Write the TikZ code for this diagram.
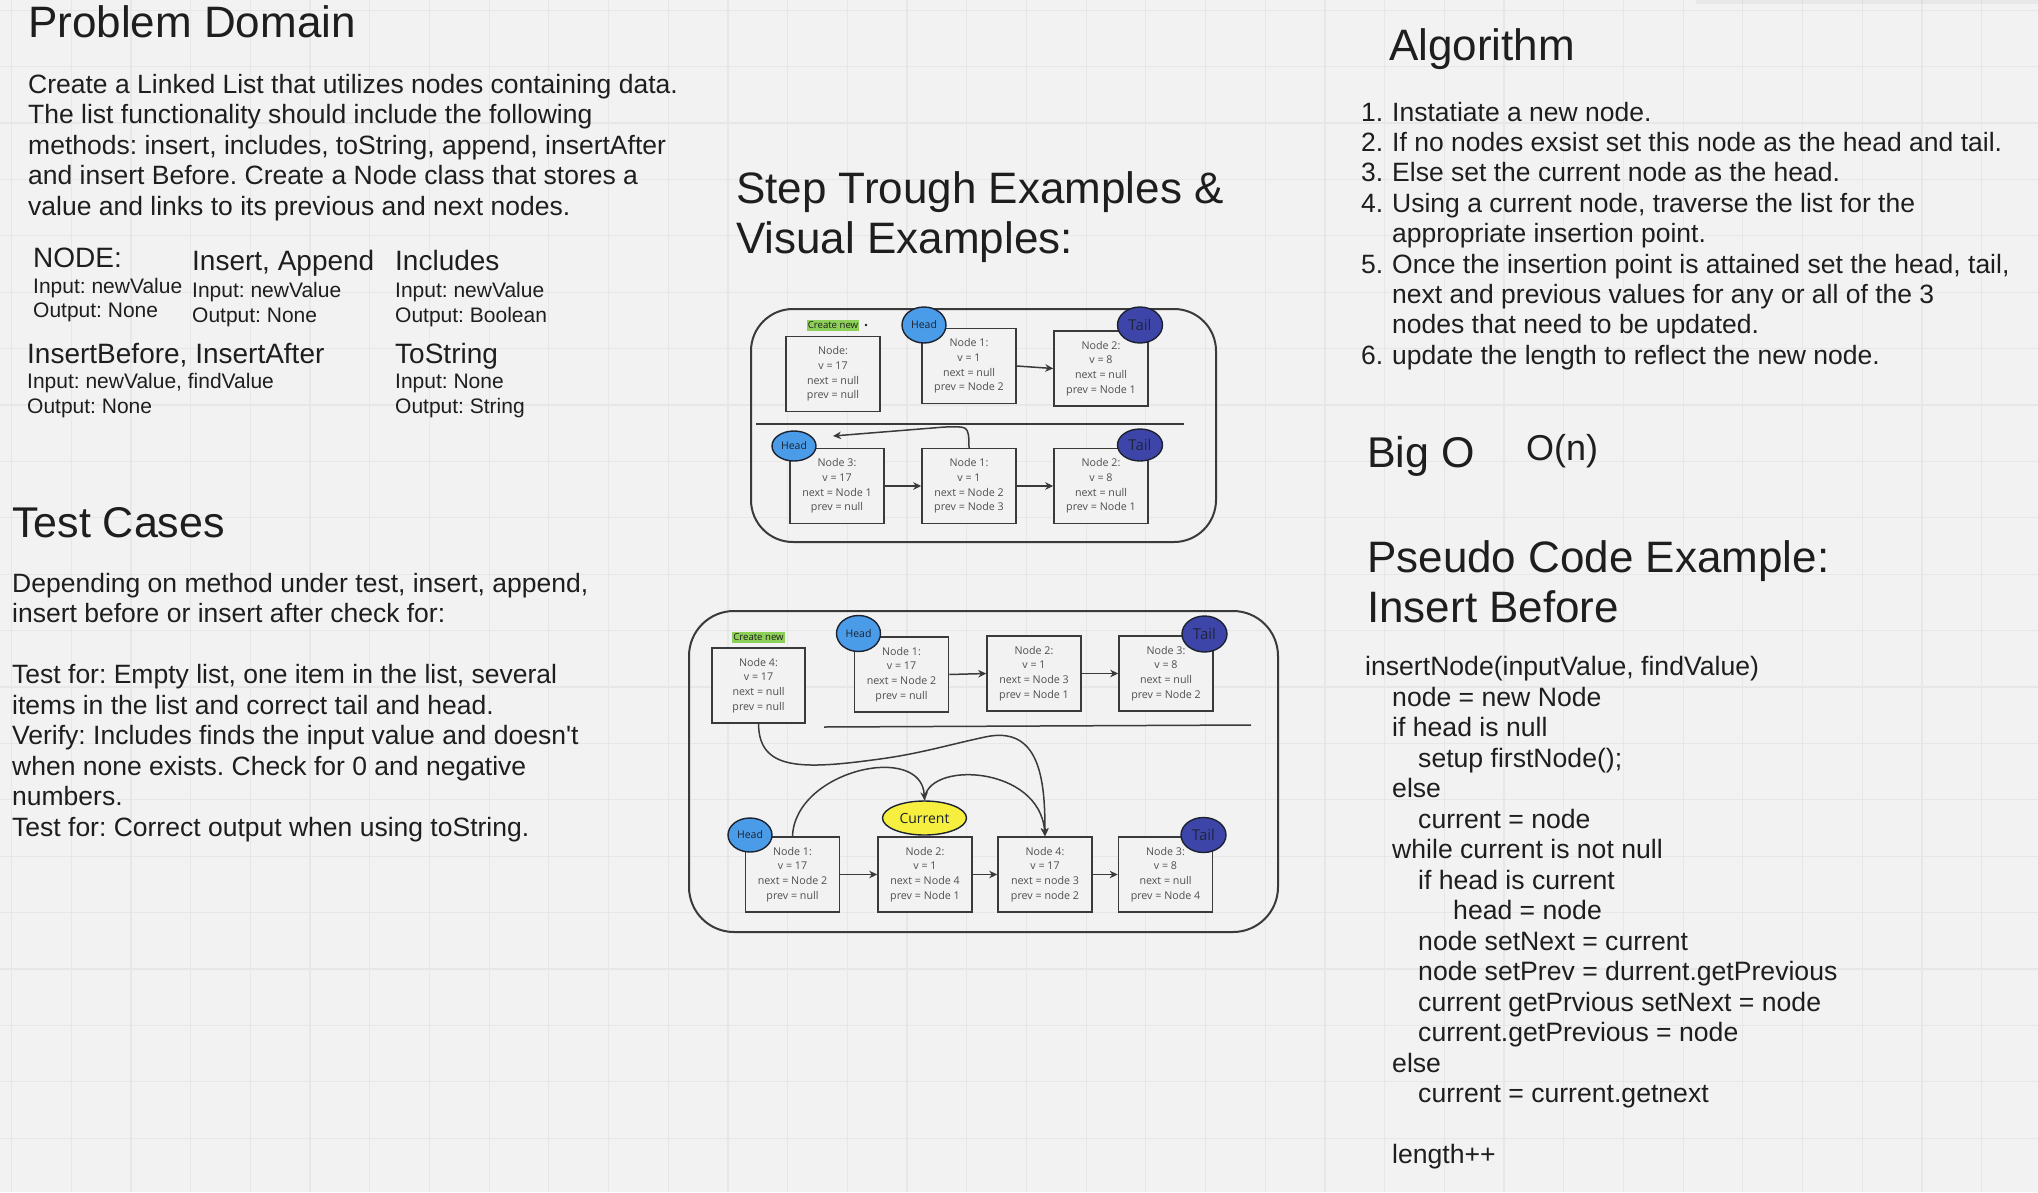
\documentclass[tikz,border=0pt]{standalone}
\usepackage{fontspec}
\setmainfont{Liberation Sans}[Ligatures=TeXOff]
\newfontfamily\osans{Open Sans}
\usetikzlibrary{arrows.meta,shapes.geometric}
\definecolor{bg}{HTML}{F2F2F2}
\definecolor{gridc}{HTML}{E7E7E7}
\definecolor{ink}{HTML}{1E1E1E}
\definecolor{boxline}{HTML}{3A3A3A}
\definecolor{boxtext}{HTML}{4F4F4F}
\definecolor{headfill}{HTML}{4A9CE8}
\definecolor{tailfill}{HTML}{3D46A8}
\definecolor{curfill}{HTML}{F6EF3F}
\definecolor{newfill}{HTML}{8DD058}
\definecolor{ellline}{HTML}{1C2230}
\frenchspacing
\begin{document}
\frenchspacing
\begin{tikzpicture}[x=1pt,y=-1pt,
  txt/.style={anchor=north west, inner sep=0pt, align=left, text=ink},
  hd/.style={anchor=base west, inner sep=0pt, text=ink},
  nbox/.style={draw=boxline, line width=1.5pt, fill=bg, minimum width=94pt, minimum height=75pt,
    inner sep=0pt, align=center, text=boxtext, font=\osans\fontsize{10.7}{14.7}\selectfont},
  ell/.style={ellipse, draw=ellline, line width=1.4pt, inner sep=0pt, text=ellline},
  headell/.style={ell, fill=headfill, minimum width=44pt, minimum height=36pt, font=\osans\fontsize{10.5}{12}\selectfont},
  tailell/.style={ell, fill=tailfill, minimum width=45pt, minimum height=36pt, text=ellline!90!tailfill, font=\osans\fontsize{15}{16}\selectfont},
  curell/.style={ell, fill=curfill, minimum width=84pt, minimum height=34pt, font=\osans\fontsize{14}{15}\selectfont},
  newlbl/.style={fill=newfill, inner xsep=1pt, inner ysep=0pt, text height=7.6pt, text depth=2.6pt,
    font=\osans\fontsize{9.6}{11}\selectfont, text=ink},
  frame/.style={draw=boxline, line width=2pt, rounded corners=42pt, inner sep=0pt},
  link/.style={draw=boxline, line width=1.5pt, -{Stealth[length=8pt,width=7.5pt,inset=2.5pt]}},
  sepline/.style={draw=boxline, line width=1.5pt},
]
% background and grid
\fill[bg] (0,0) rectangle (2038,1192);
\useasboundingbox (0,0) rectangle (2038,1192);
\foreach \i in {0,...,33} \draw[gridc, line width=1.2pt] ({11.5+59.7*\i},0) -- ({11.5+59.7*\i},1192);
\foreach \j in {0,...,21} \draw[gridc, line width=1.2pt] (0,{10.2+56.4*\j}) -- (2038,{10.2+56.4*\j});
\fill[black, opacity=0.04] (1696,0) rectangle (2038,4);

% ---------------- Problem Domain ----------------
\node[hd, font=\fontsize{44}{50}\selectfont] (pdtitle) at (28,37) {Problem Domain};
\node[txt, font=\fontsize{26.5}{30.5}\selectfont] (pdtext) at (28,71.65)
 {\strut Create a Linked List that utilizes nodes containing data.\\
  The list functionality should include the following\\
  methods: insert, includes, toString, append, insertAfter\\
  and insert Before. Create a Node class that stores a\\
  value and links to its previous and next nodes.};

\node[hd, font=\fontsize{28}{32}\selectfont] (mnode) at (33,267) {NODE:};
\node[hd, font=\fontsize{21}{24}\selectfont] (mnodei) at (33,293) {Input: newValue};
\node[hd, font=\fontsize{21}{24}\selectfont] (mnodeo) at (33,317) {Output: None};

\node[hd, font=\fontsize{28}{32}\selectfont] (mins) at (192,270) {Insert, Append};
\node[hd, font=\fontsize{21}{24}\selectfont] (minsi) at (192,297) {Input: newValue};
\node[hd, font=\fontsize{21}{24}\selectfont] (minso) at (192,322) {Output: None};

\node[hd, font=\fontsize{28}{32}\selectfont] (minc) at (395,270) {Includes};
\node[hd, font=\fontsize{21}{24}\selectfont] (minci) at (395,297) {Input: newValue};
\node[hd, font=\fontsize{21}{24}\selectfont] (minco) at (395,322) {Output: Boolean};

\node[hd, font=\fontsize{28}{32}\selectfont] (mib) at (27,363) {InsertBefore, InsertAfter};
\node[hd, font=\fontsize{21}{24}\selectfont] (mibi) at (27,388) {Input: newValue, findValue};
\node[hd, font=\fontsize{21}{24}\selectfont] (mibo) at (27,413) {Output: None};

\node[hd, font=\fontsize{28}{32}\selectfont] (mts) at (395,363) {ToString};
\node[hd, font=\fontsize{21}{24}\selectfont] (mtsi) at (395,388) {Input: None};
\node[hd, font=\fontsize{21}{24}\selectfont] (mtso) at (395,413) {Output: String};

% ---------------- Test Cases ----------------
\node[hd, font=\fontsize{43}{50}\selectfont] (tctitle) at (12,537) {Test Cases};
\node[txt, font=\fontsize{26.5}{30.5}\selectfont] (tctext) at (12,570.65)
 {\strut Depending on method under test, insert, append,\\
  insert before or insert after check for:\\
  \strut\\
  Test for: Empty list, one item in the list, several\\
  items in the list and correct tail and head.\\
  Verify: Includes finds the input value and doesn't\\
  when none exists. Check for 0 and negative\\
  numbers.\\
  Test for: Correct output when using toString.};

% ---------------- Step through title ----------------
\node[hd, font=\fontsize{44}{50}\selectfont] (sttitle1) at (736,203) {Step Trough Examples \&};
\node[hd, font=\fontsize{44}{50}\selectfont] (sttitle2) at (736,253) {Visual Examples:};

% ---------------- Algorithm ----------------
\node[hd, font=\fontsize{44}{50}\selectfont] (altitle) at (1389,60) {Algorithm};
\node[txt, font=\fontsize{26.5}{30.4}\selectfont] (alnum) at (1361,99.7)
 {\strut 1.\\2.\\3.\\4.\\ \\5.\\ \\ \\6.};
\node[txt, font=\fontsize{26.5}{30.4}\selectfont] (altext) at (1392,99.7)
 {\strut Instatiate a new node.\\
  If no nodes exsist set this node as the head and tail.\\
  Else set the current node as the head.\\
  Using a current node, traverse the list for the\\
  appropriate insertion point.\\
  Once the insertion point is attained set the head, tail,\\
  next and previous values for any or all of the 3\\
  nodes that need to be updated.\\
  update the length to reflect the new node.};

% ---------------- Big O ----------------
\node[hd, font=\fontsize{43}{50}\selectfont] (bigo) at (1367,467) {Big O};
\node[hd, font=\fontsize{36}{40}\selectfont] (bigon) at (1526,460) {O(n)};

% ---------------- Pseudo code ----------------
\node[hd, font=\fontsize{44}{50}\selectfont] (pstitle1) at (1367,572) {Pseudo Code Example:};
\node[hd, font=\fontsize{44}{50}\selectfont] (pstitle2) at (1367,622) {Insert Before};
\node[txt, font=\fontsize{26.6}{30.5}\selectfont] (pscode) at (1365,654.15)
 {\strut insertNode(inputValue, findValue)\\
  \hspace*{27pt}node = new Node\\
  \hspace*{27pt}if head is null\\
  \hspace*{53pt}setup firstNode();\\
  \hspace*{27pt}else\\
  \hspace*{53pt}current = node\\
  \hspace*{27pt}while current is not null\\
  \hspace*{53pt}if head is current\\
  \hspace*{88pt}head = node\\
  \hspace*{53pt}node setNext = current\\
  \hspace*{53pt}node setPrev = durrent.getPrevious\\
  \hspace*{53pt}current getPrvious setNext = node\\
  \hspace*{53pt}current.getPrevious = node\\
  \hspace*{27pt}else\\
  \hspace*{53pt}current = current.getnext\\
  \strut\\
  \hspace*{27pt}length++};

% ---------------- Diagram 1 ----------------
\node[frame, minimum width=465pt, minimum height=233pt] (d1frame) at (983.5,425.5) {};
\node[newlbl] (d1new) at (833,325.5) {Create new};
\node[circle, fill=ink, inner sep=0pt, minimum size=2.6pt] (d1dot) at (866,325) {};
\node[nbox] (d1n0) at (833,374) {Node:\\v = 17\\next = null\\prev = null};
\node[nbox] (d1n1) at (969,366) {Node 1:\\v = 1\\next = null\\prev = Node 2};
\node[nbox] (d1n2) at (1101,368.5) {Node 2:\\v = 8\\next = null\\prev = Node 1};
\node[headell] (d1h1) at (924,325) {Head};
\node[tailell] (d1t1) at (1140,325) {Tail};
\draw[link] (d1n1.east) -- (d1n2.west);
\coordinate (d1sepL) at (756,424);
\coordinate (d1sepR) at (1184,424);
\draw[sepline] (d1sepL) -- (d1sepR);
\node[nbox] (d1m3) at (837,486) {Node 3:\\v = 17\\next = Node 1\\prev = null};
\node[nbox] (d1m1) at (969,486) {Node 1:\\v = 1\\next = Node 2\\prev = Node 3};
\node[nbox] (d1m2) at (1101,486) {Node 2:\\v = 8\\next = null\\prev = Node 1};
\node[headell, minimum height=30pt] (d1h2) at (794,446) {Head};
\node[tailell, minimum height=32pt] (d1t2) at (1140,445) {Tail};
\draw[link] (d1m3.east) -- (d1m1.west);
\draw[link] (d1m1.east) -- (d1m2.west);
\coordinate (d1bend) at (945,427);
\coordinate (d1tip) at (833,436);
\draw[link] (d1m1.north) .. controls +(0,-24) and +(22,0) .. (d1bend) -- (d1tip);

% ---------------- Diagram 2 ----------------
\node[frame, rounded corners=45pt, minimum width=589pt, minimum height=321pt] (d2frame) at (983.5,771.5) {};
\node[newlbl] (d2new) at (758.5,637.5) {Create new};
\node[nbox, minimum width=93pt] (d2n4) at (758.5,685.5) {Node 4:\\v = 17\\next = null\\prev = null};
\node[nbox] (d2t1) at (901.5,674.5) {Node 1:\\v = 17\\next = Node 2\\prev = null};
\node[nbox] (d2t2) at (1034,673.5) {Node 2:\\v = 1\\next = Node 3\\prev = Node 1};
\node[nbox] (d2t3) at (1166,673.5) {Node 3:\\v = 8\\next = null\\prev = Node 2};
\node[headell] (d2h1) at (858.5,633.5) {Head};
\node[tailell] (d2tl1) at (1204.5,634) {Tail};
\draw[link] (d2t1.east) -- (d2t2.west);
\draw[link] (d2t2.east) -- (d2t3.west);
\coordinate (d2sepL) at (824,727);
\coordinate (d2sepR) at (1251,725);
\draw[sepline] (d2sepL) -- (d2sepR);
\node[nbox] (d2b1) at (792.5,874.5) {Node 1:\\v = 17\\next = Node 2\\prev = null};
\node[nbox] (d2b2) at (925,874.5) {Node 2:\\v = 1\\next = Node 4\\prev = Node 1};
\node[nbox] (d2b4) at (1045,874.5) {Node 4:\\v = 17\\next = node 3\\prev = node 2};
\node[nbox] (d2b3) at (1165.5,874.5) {Node 3:\\v = 8\\next = null\\prev = Node 4};
\node[headell, minimum height=34pt] (d2h2) at (750,835) {Head};
\node[tailell, minimum height=35pt] (d2tl2) at (1203.5,835) {Tail};
\node[curell] (d2cur) at (924.5,818) {Current};
\draw[link] (d2b1.east) -- (d2b2.west);
\draw[link] (d2b2.east) -- (d2b4.west);
\draw[link] (d2b4.east) -- (d2b3.west);
\draw[link] (d2n4.south) .. controls (759,770) and (800,770) .. (880,759)
   .. controls (920,753.5) and (945,745.7) .. (985,737)
   .. controls (1040,725) and (1045,780) .. (d2b4.north);
\draw[link] (d2b1.north) .. controls (795,770) and (922,742) .. (d2cur.north);
\draw[link] (d2cur.north) .. controls (925,760) and (1040,765) .. (d2b4.north);
\end{tikzpicture}
\end{document}
